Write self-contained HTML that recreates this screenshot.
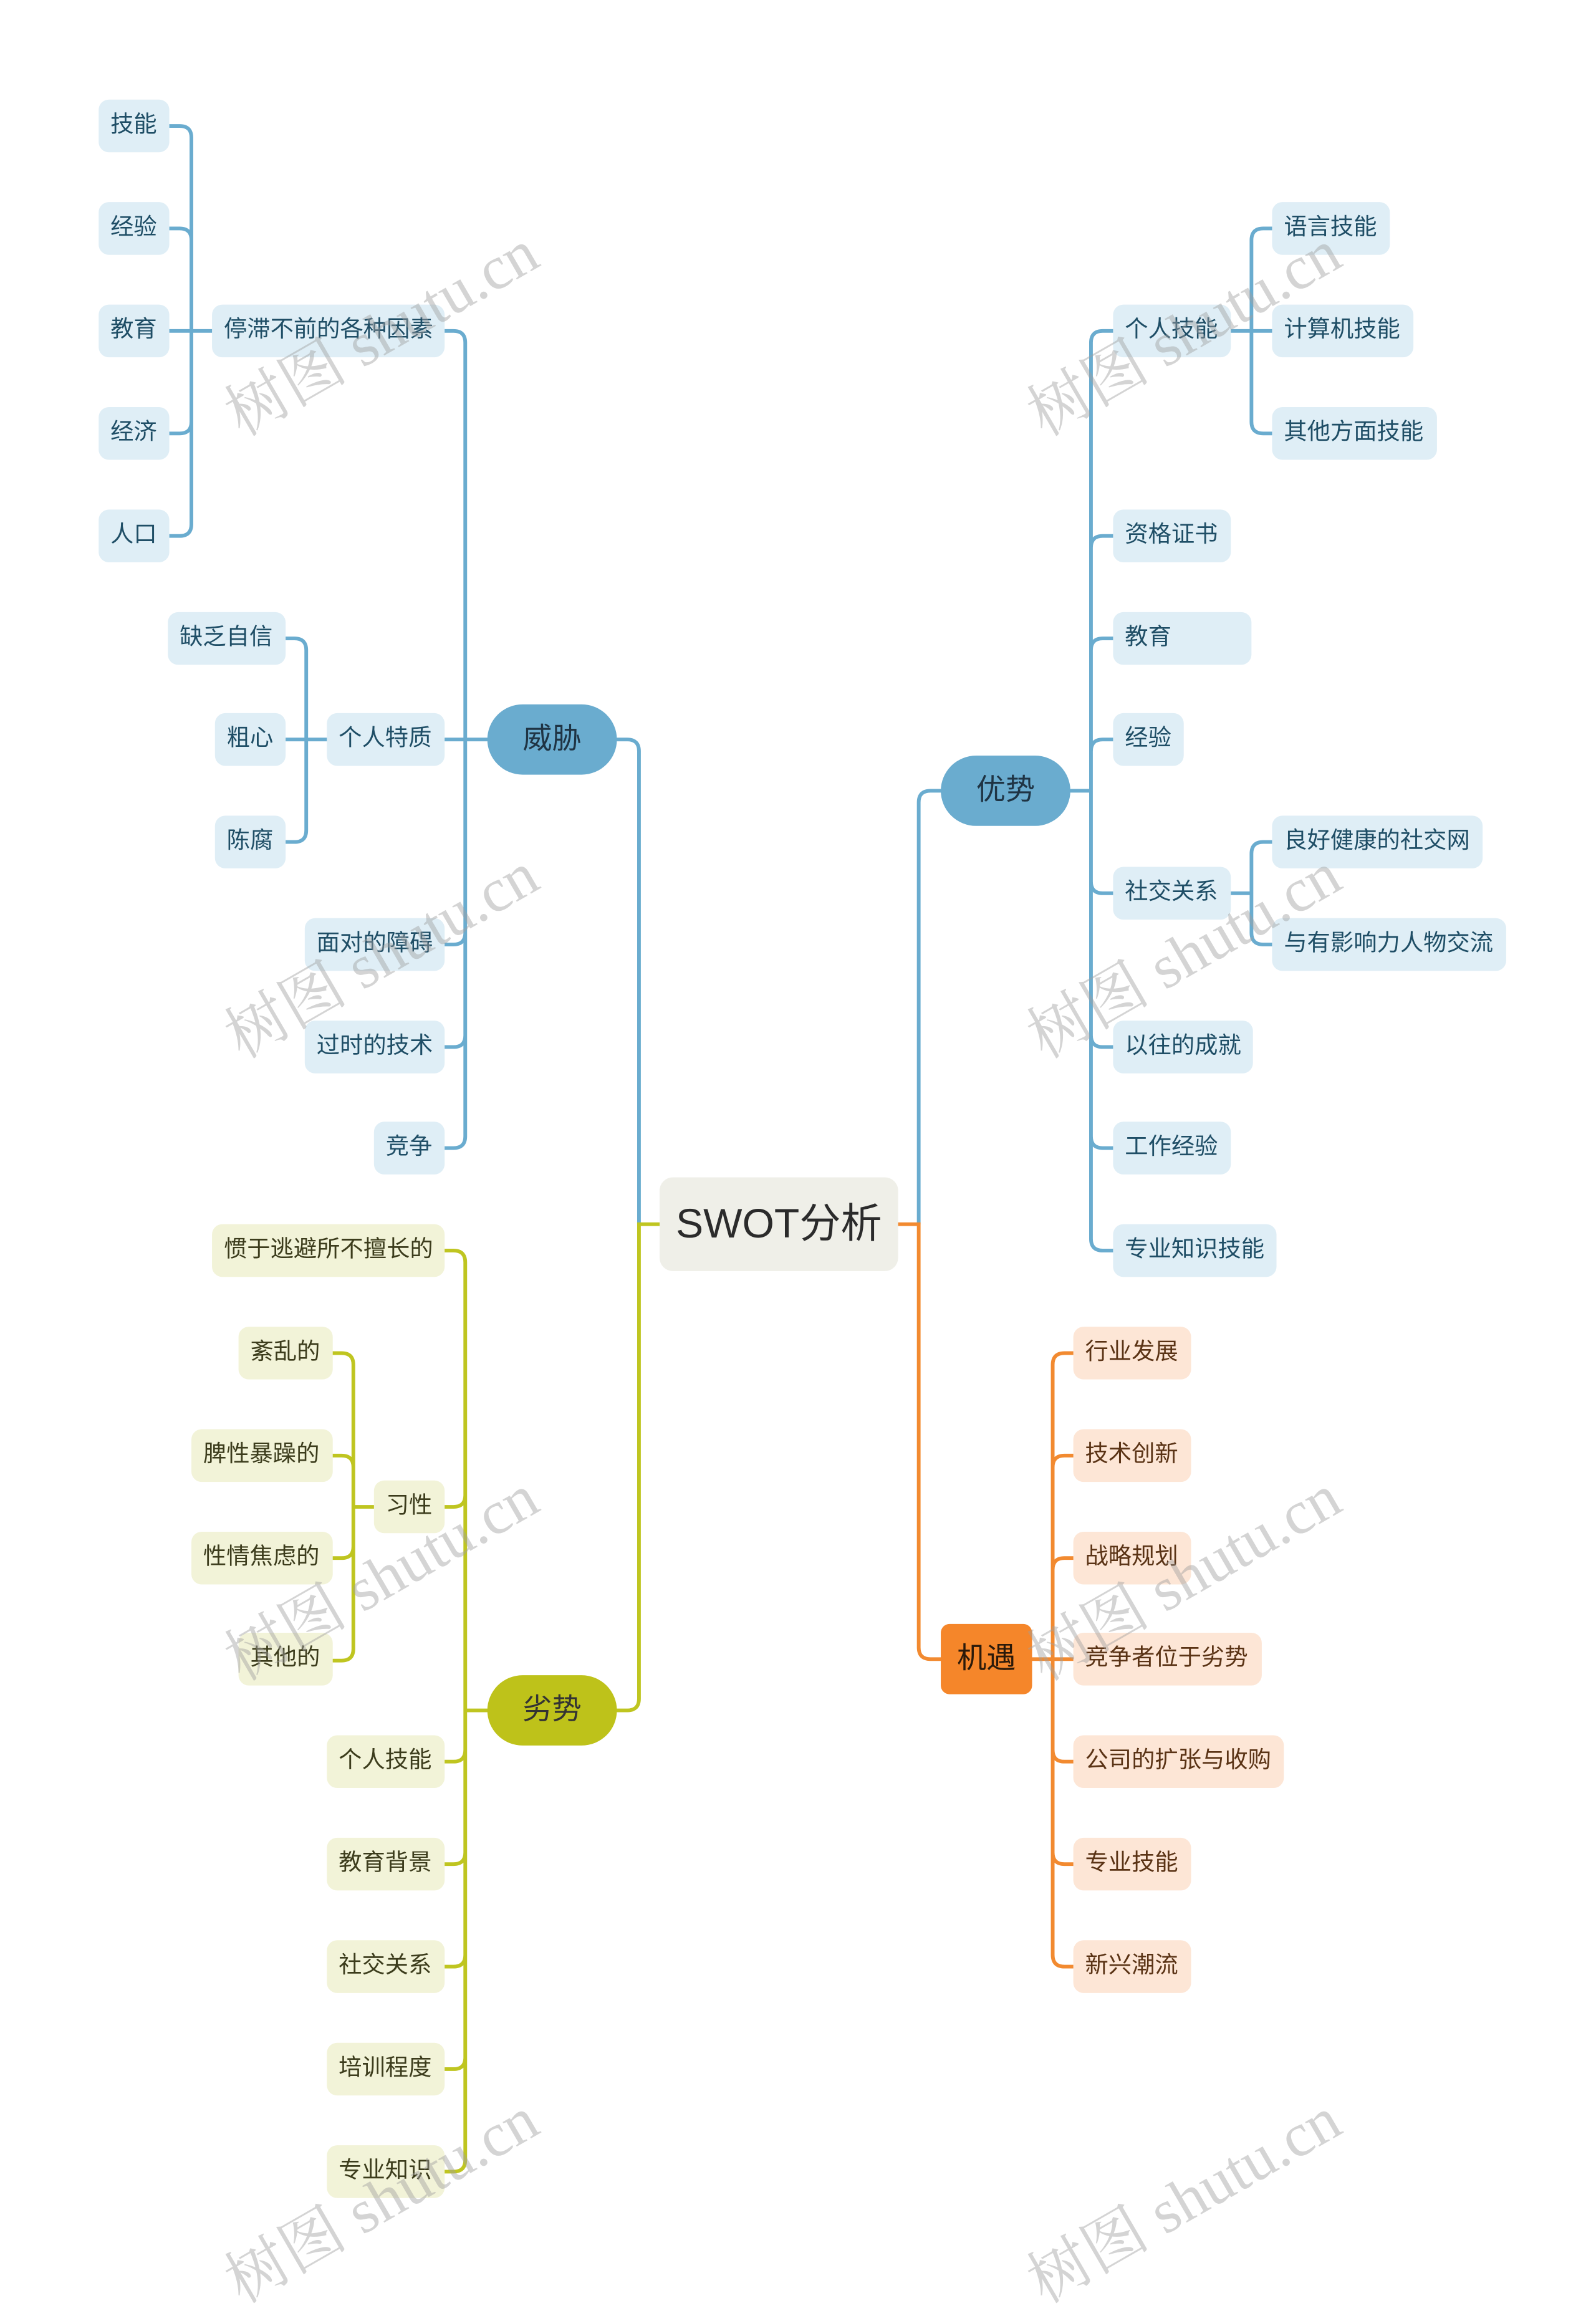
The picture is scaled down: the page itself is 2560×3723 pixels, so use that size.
<!DOCTYPE html>
<html><head><meta charset="utf-8">
<style>
html,body{margin:0;padding:0;background:#fff;}
body{width:2560px;height:3683px;overflow:hidden;position:relative;}
#w{position:absolute;left:0;top:0;width:1084px;height:1568px;transform-origin:0 0;transform:scale(2.3616,2.3489);font-family:"Liberation Sans","Noto Sans CJK SC",sans-serif;}
.n{position:absolute;height:36px;line-height:36px;font-size:15.8px;padding-left:8px;box-sizing:border-box;border-radius:7px;white-space:nowrap;}
.b{background:#dfeef6;color:#1f4e66;}
.y{background:#f2f3d8;color:#3c3c1c;}
.o{background:#fde6d6;color:#5a3315;}
.m{position:absolute;text-align:center;font-size:20px;color:#1f3444;}
.wm{position:absolute;font-family:"Liberation Serif","Noto Serif CJK SC",serif;font-size:42px;color:rgba(160,160,160,0.45);transform:rotate(-30deg);white-space:nowrap;transform-origin:center;}
svg{position:absolute;left:0;top:0;}
</style></head><body><div id="w">
<svg width="1084" height="1568" fill="none" stroke-width="2.5" stroke-linecap="round">
<g stroke="#6aaccf">
<path d="M302,226 H308 Q316,226 316,234 M302,505 H331 M302,645 H308 Q316,645 316,637 M302,715 H308 Q316,715 316,707 M302,784 H308 Q316,784 316,776 M316,234 V776"/>
<path d="M115,86 H122 Q130,86 130,94 M115,156 H122 Q130,156 130,164 M115,226 H144 M115,296 H122 Q130,296 130,288 M115,366 H122 Q130,366 130,358 M130,94 V358"/>
<path d="M194,436 H200 Q208,436 208,444 M194,505 H222 M194,575 H200 Q208,575 208,567 M208,444 V567"/>
<path d="M419,505 H426 Q434,505 434,513 V836"/>
<path d="M624,836 V548 Q624,540 632,540 H639"/>
<path d="M727,540 H741 M741,234 V846 M756,226 H749 Q741,226 741,234 M756,366 H749 Q741,366 741,374 M756,436 H749 Q741,436 741,444 M756,505 H749 Q741,505 741,513 M756,610 H749 Q741,610 741,602 M756,715 H749 Q741,715 741,707 M756,784 H749 Q741,784 741,776 M756,854 H749 Q741,854 741,846"/>
<path d="M836,226 H864 M850,164 V288 M864,156 H858 Q850,156 850,164 M864,296 H858 Q850,296 850,288"/>
<path d="M836,610 H850 M850,583 V637 M864,575 H858 Q850,575 850,583 M864,645 H858 Q850,645 850,637"/>
</g>
<g stroke="#bfc520">
<path d="M448,836 H434 V1160 Q434,1168 426,1168 H419"/>
<path d="M331,1168 H316 M316,862 V1475 M302,854 H308 Q316,854 316,862 M302,1029 H308 Q316,1029 316,1021 M302,1203 H308 Q316,1203 316,1195 M302,1273 H308 Q316,1273 316,1265 M302,1343 H308 Q316,1343 316,1335 M302,1413 H308 Q316,1413 316,1405 M302,1483 H308 Q316,1483 316,1475"/>
<path d="M254,1029 H240 M240,932 V1126 M226,924 H232 Q240,924 240,932 M226,994 H232 Q240,994 240,1002 M226,1064 H232 Q240,1064 240,1056 M226,1134 H232 Q240,1134 240,1126"/>
</g>
<g stroke="#f28a30">
<path d="M610,836 H624 V1125 Q624,1133 632,1133 H639"/>
<path d="M701,1133 H729 M715,932 V1335 M729,924 H723 Q715,924 715,932 M729,994 H723 Q715,994 715,1002 M729,1064 H723 Q715,1064 715,1072 M729,1203 H723 Q715,1203 715,1195 M729,1273 H723 Q715,1273 715,1265 M729,1343 H723 Q715,1343 715,1335"/>
</g>
</svg>

<div style="position:absolute;left:448px;top:804px;width:162px;height:64px;background:#efefe8;border-radius:9px;line-height:64px;text-align:center;font-size:28px;color:#2b2b2b;">SWOT分析</div>
<div class="m" style="left:331px;top:481px;width:88px;height:48px;line-height:48px;border-radius:24px;background:#6aaccf;">威胁</div>
<div class="m" style="left:639px;top:516px;width:88px;height:48px;line-height:48px;border-radius:24px;background:#6aaccf;">优势</div>
<div class="m" style="left:331px;top:1144px;width:88px;height:48px;line-height:48px;border-radius:24px;background:#bec21a;color:#333;">劣势</div>
<div class="m" style="left:639px;top:1109px;width:62px;height:48px;line-height:48px;border-radius:6px;background:#f5862a;color:#2b1a0a;">机遇</div>

<div class="n b" style="left:67px;top:68px;width:48px">技能</div>
<div class="n b" style="left:67px;top:138px;width:48px">经验</div>
<div class="n b" style="left:67px;top:208px;width:48px">教育</div>
<div class="n b" style="left:67px;top:278px;width:48px">经济</div>
<div class="n b" style="left:67px;top:348px;width:48px">人口</div>
<div class="n b" style="left:144px;top:208px;width:158px">停滞不前的各种因素</div>
<div class="n b" style="left:114px;top:418px;width:80px">缺乏自信</div>
<div class="n b" style="left:146px;top:487px;width:48px">粗心</div>
<div class="n b" style="left:146px;top:557px;width:48px">陈腐</div>
<div class="n b" style="left:222px;top:487px;width:80px">个人特质</div>
<div class="n b" style="left:207px;top:627px;width:95px">面对的障碍</div>
<div class="n b" style="left:207px;top:697px;width:95px">过时的技术</div>
<div class="n b" style="left:254px;top:766px;width:48px">竞争</div>

<div class="n b" style="left:756px;top:208px;width:80px">个人技能</div>
<div class="n b" style="left:864px;top:138px;width:80px">语言技能</div>
<div class="n b" style="left:864px;top:208px;width:96px">计算机技能</div>
<div class="n b" style="left:864px;top:278px;width:112px">其他方面技能</div>
<div class="n b" style="left:756px;top:348px;width:80px">资格证书</div>
<div class="n b" style="left:756px;top:418px;width:94px">教育</div>
<div class="n b" style="left:756px;top:487px;width:48px">经验</div>
<div class="n b" style="left:756px;top:592px;width:80px">社交关系</div>
<div class="n b" style="left:864px;top:557px;width:143px">良好健康的社交网</div>
<div class="n b" style="left:864px;top:627px;width:159px">与有影响力人物交流</div>
<div class="n b" style="left:756px;top:697px;width:95px">以往的成就</div>
<div class="n b" style="left:756px;top:766px;width:80px">工作经验</div>
<div class="n b" style="left:756px;top:836px;width:111px">专业知识技能</div>

<div class="n o" style="left:729px;top:906px;width:80px">行业发展</div>
<div class="n o" style="left:729px;top:976px;width:80px">技术创新</div>
<div class="n o" style="left:729px;top:1046px;width:80px">战略规划</div>
<div class="n o" style="left:729px;top:1115px;width:128px">竞争者位于劣势</div>
<div class="n o" style="left:729px;top:1185px;width:143px">公司的扩张与收购</div>
<div class="n o" style="left:729px;top:1255px;width:80px">专业技能</div>
<div class="n o" style="left:729px;top:1325px;width:80px">新兴潮流</div>

<div class="n y" style="left:144px;top:836px;width:158px">惯于逃避所不擅长的</div>
<div class="n y" style="left:162px;top:906px;width:64px">紊乱的</div>
<div class="n y" style="left:130px;top:976px;width:96px">脾性暴躁的</div>
<div class="n y" style="left:130px;top:1046px;width:96px">性情焦虑的</div>
<div class="n y" style="left:162px;top:1115px;width:64px">其他的</div>
<div class="n y" style="left:254px;top:1011px;width:48px">习性</div>
<div class="n y" style="left:222px;top:1185px;width:80px">个人技能</div>
<div class="n y" style="left:222px;top:1255px;width:80px">教育背景</div>
<div class="n y" style="left:222px;top:1325px;width:80px">社交关系</div>
<div class="n y" style="left:222px;top:1395px;width:80px">培训程度</div>
<div class="n y" style="left:222px;top:1465px;width:80px">专业知识</div>

<div class="wm" style="left:140px;top:195px">树图 shutu.cn</div>
<div class="wm" style="left:685px;top:195px">树图 shutu.cn</div>
<div class="wm" style="left:140px;top:620px">树图 shutu.cn</div>
<div class="wm" style="left:685px;top:620px">树图 shutu.cn</div>
<div class="wm" style="left:140px;top:1045px">树图 shutu.cn</div>
<div class="wm" style="left:685px;top:1045px">树图 shutu.cn</div>
<div class="wm" style="left:140px;top:1470px">树图 shutu.cn</div>
<div class="wm" style="left:685px;top:1470px">树图 shutu.cn</div>
</div></body></html>
